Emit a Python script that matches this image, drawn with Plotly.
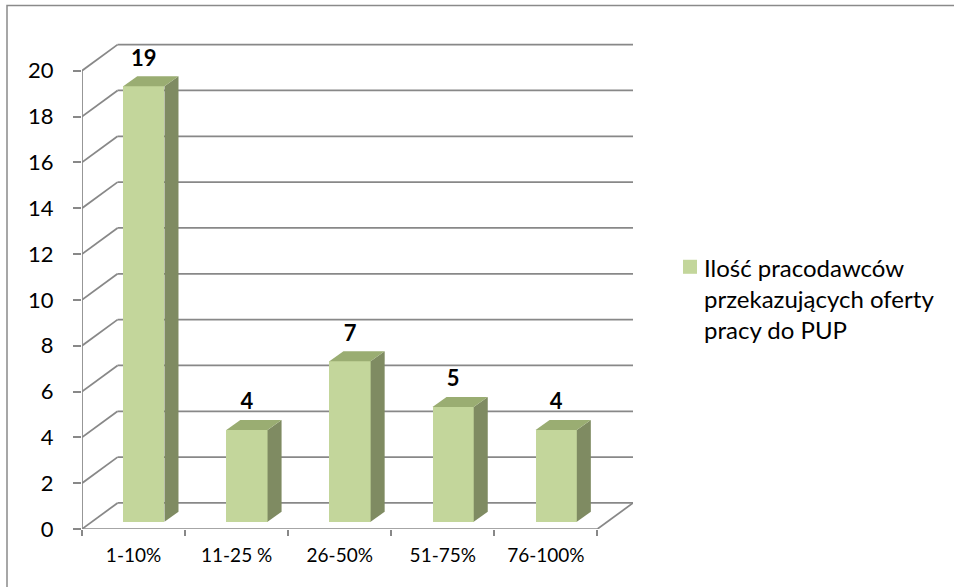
import plotly.graph_objects as go

# --- data -------------------------------------------------------------
categories = ["1-10%", "11-25 %", "26-50%", "51-75%", "76-100%"]
employers = [19, 4, 7, 5, 4]
y_ticks = list(range(0, 21, 2))
legend_lines = ["Ilość pracodawców", "przekazujących oferty", "pracy do PUP"]

# --- page geometry (pixels) ---------------------------------------------
W, H = 954, 587
ML, MR, MT, MB = 82, 321, 34.4, 58
PW, PH = W - ML - MR, H - MT - MB

# --- pseudo-3D perspective, in axis units --------------------------------
WALL_DX, WALL_DY = 0.345, 1.135      # depth of the back wall / floor
BAR_SHIFT, BAR_W = 0.10, 0.40        # bar front face position and width
BAR_BASE = 0.32                      # bars stand part-way into the floor
BAR_DX, BAR_DY = 0.136, 0.437        # depth of each bar block
LABEL_GAP = 1.46                     # value label above the bar front top

FRONT = "#C3D69B"
TOP = "#9AAD72"
SIDE = "#7F8B62"
GRID = "#888888"
FONT = "Lato"

n = len(categories)
x_left, x_right = -0.5, n - 0.5
xs = [i + BAR_SHIFT for i in range(n)]

fig = go.Figure()

# front faces
fig.add_trace(go.Bar(
    x=xs, y=employers, base=BAR_BASE, width=BAR_W,
    marker=dict(color=FRONT, line=dict(width=0)),
    showlegend=False, hoverinfo="skip",
))

# side and top faces of every block
for x, v in zip(xs, employers):
    x0, x1 = x - BAR_W / 2, x + BAR_W / 2
    b, t = BAR_BASE, v + BAR_BASE
    fig.add_trace(go.Scatter(
        x=[x1, x1 + BAR_DX, x1 + BAR_DX, x1, x1],
        y=[b, b + BAR_DY, t + BAR_DY, t, b],
        fill="toself", fillcolor=SIDE, mode="lines", line=dict(width=0),
        showlegend=False, hoverinfo="skip",
    ))
    fig.add_trace(go.Scatter(
        x=[x0, x0 + BAR_DX, x1 + BAR_DX, x1, x0],
        y=[t, t + BAR_DY, t + BAR_DY, t, t],
        fill="toself", fillcolor=TOP, mode="lines", line=dict(width=0),
        showlegend=False, hoverinfo="skip",
    ))

# value labels
fig.add_trace(go.Scatter(
    x=xs, y=[v + LABEL_GAP for v in employers],
    text=[str(v) for v in employers], mode="text",
    textposition="middle center",
    textfont=dict(family=FONT, size=22, color="black", weight="bold"),
    showlegend=False, hoverinfo="skip", cliponaxis=False,
))

# back wall gridlines (with their diagonal to the front axis) and floor
shapes = []
line_style = dict(color=GRID, width=1.75)
for v in y_ticks:
    shapes.append(dict(type="line", xref="x", yref="y", layer="below",
                       x0=x_left, y0=v, x1=x_left + WALL_DX, y1=v + WALL_DY,
                       line=line_style))
    shapes.append(dict(type="line", xref="x", yref="y", layer="below",
                       x0=x_left + WALL_DX, y0=v + WALL_DY,
                       x1=x_right + WALL_DX, y1=v + WALL_DY,
                       line=line_style))
shapes.append(dict(type="line", xref="x", yref="y", layer="below",
                   x0=x_left, y0=0, x1=x_right, y1=0, line=line_style))
shapes.append(dict(type="line", xref="x", yref="y", layer="below",
                   x0=x_right, y0=0, x1=x_right + WALL_DX, y1=WALL_DY,
                   line=line_style))
shapes.append(dict(type="line", xref="x", yref="y", layer="below",
                   x0=x_left, y0=0, x1=x_left, y1=y_ticks[-1],
                   line=line_style))


def px_x(p):
    return (p - ML) / PW


def px_y(p):
    return (H - MB - p) / PH


# outer chart frame
shapes.append(dict(type="path", xref="paper", yref="paper",
                   path=f"M {px_x(7)},{px_y(600)} L {px_x(7)},{px_y(6)} "
                        f"L {px_x(960)},{px_y(6)}",
                   line=dict(color="#8a8a8a", width=1.5)))

# legend: swatch and wrapped series name
shapes.append(dict(type="rect", xref="paper", yref="paper",
                   x0=px_x(683), x1=px_x(697), y0=px_y(274), y1=px_y(260),
                   fillcolor=FRONT, line=dict(width=0)))
annotations = []
for k, line in enumerate(legend_lines):
    annotations.append(dict(
        xref="paper", yref="paper", x=px_x(702), y=px_y(268 + 31 * k),
        xanchor="left", yanchor="middle", showarrow=False, text=line,
        font=dict(family=FONT, size=24, color="black"),
    ))

fig.update_layout(
    width=W, height=H,
    margin=dict(l=ML, r=MR, t=MT, b=MB, pad=0),
    paper_bgcolor="white", plot_bgcolor="white",
    shapes=shapes, annotations=annotations,
    showlegend=False, bargap=0,
    xaxis=dict(
        range=[x_left, x_right + WALL_DX],
        tickmode="array", tickvals=list(range(n)), ticktext=categories,
        ticks="", showgrid=False, zeroline=False, showline=False,
        tickfont=dict(family=FONT, size=19, color="black"),
        ticklabelstandoff=13,
        minor=dict(tickmode="array", tickvals=[i - 0.5 for i in range(n + 1)],
                   ticks="outside", ticklen=6, tickwidth=1.75,
                   tickcolor=GRID, showgrid=False),
        fixedrange=True,
    ),
    yaxis=dict(
        range=[0, 21.6],
        tickmode="array", tickvals=y_ticks,
        ticks="outside", ticklen=8, tickwidth=1.75, tickcolor=GRID,
        showgrid=False, zeroline=False, showline=False,
        tickfont=dict(family=FONT, size=22, color="black"),
        ticklabelstandoff=15,
        fixedrange=True,
    ),
)

fig.write_html("out.html")
